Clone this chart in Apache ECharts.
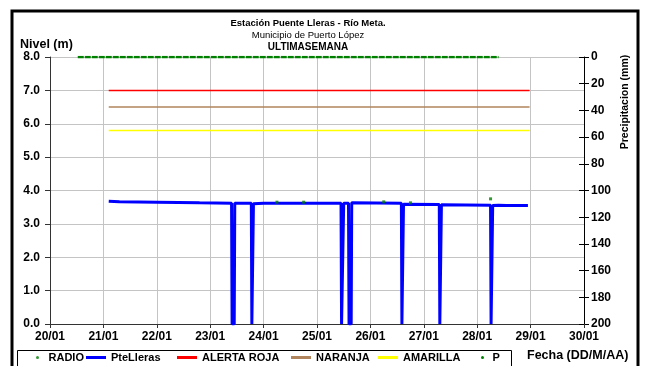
<!DOCTYPE html>
<html>
<head>
<meta charset="utf-8">
<script src="https://cdn.jsdelivr.net/npm/echarts@6/dist/echarts.min.js"></script>
<style>
  html, body { margin: 0; padding: 0; background: #fff; }
  #chart { width: 645px; height: 366px; }
</style>
</head>
<body>
<div id="chart"></div>
<script>
// fechas en dias de enero (decimal), nivel en metros
const nivelFechas = [21.10, 21.30, 22.00, 22.80, 23.40, 23.41, 23.45, 23.46, 23.77, 23.78, 23.80, 23.81,
  24.00, 25.45, 25.46, 25.49, 25.50, 25.59, 25.60, 25.64, 25.65, 26.58, 26.59, 26.61, 26.62,
  27.29, 27.30, 27.32, 27.33, 28.25, 28.26, 28.28, 28.29, 28.40, 28.55, 28.95];
const nivelValores = [3.68, 3.66, 3.65, 3.63, 3.62, 0, 0, 3.62, 3.62, 0, 0, 3.60,
  3.62, 3.62, 0, 0, 3.62, 3.62, 0, 0, 3.63, 3.62, 0, 0, 3.59,
  3.58, 0, 0, 3.57, 3.56, 0, 0, 3.55, 3.56, 3.55, 3.55];

// lecturas de radio
const radioFechas = [24.25, 24.75, 26.25, 26.75, 28.25];
const radioValores = [3.65, 3.65, 3.66, 3.63, 3.75];

// niveles de alerta
const alertaFechas = [21.10, 28.98];
const alertaRoja = [7.0, 7.0];
const alertaNaranja = [6.5, 6.5];
const alertaAmarilla = [5.8, 5.8];

// precipitacion (eje derecho, invertido)
const pFechas = [20.52, 28.40];
const pValores = [0, 0];

// etiquetas de ejes
const fechasEje = ['20/01', '21/01', '22/01', '23/01', '24/01', '25/01', '26/01', '27/01', '28/01', '29/01', '30/01'];
const nivelEje = ['0.0', '1.0', '2.0', '3.0', '4.0', '5.0', '6.0', '7.0', '8.0'];

const fuente = 'Liberation Sans, Arial, sans-serif';
const pares = (xs, ys) => xs.map((x, i) => [x, ys[i]]);

// una leyenda por elemento, para colocarlos como en el original
const leyenda = (nombre, icono, x, ancho) => ({
  left: x,
  top: 352,
  padding: 0,
  itemWidth: ancho,
  itemHeight: 3,
  textStyle: { fontSize: 11, fontWeight: 'bold', color: '#000', fontFamily: fuente },
  data: [{ name: nombre, icon: icono }]
});

const chart = echarts.init(document.getElementById('chart'));

const optionData = {
  animation: false,
  backgroundColor: '#fff',
  textStyle: { fontFamily: fuente },
  title: [
    { text: 'Estación Puente Lleras - Río Meta.', left: 303, top: 13, textAlign: 'center',
      textStyle: { fontSize: 9.5, fontWeight: 'bold', color: '#000', fontFamily: fuente } },
    { text: 'Municipio de Puerto López', left: 303, top: 25, textAlign: 'center',
      textStyle: { fontSize: 9.5, fontWeight: 'normal', color: '#000', fontFamily: fuente } },
    { text: 'ULTIMASEMANA', left: 303, top: 37, textAlign: 'center',
      textStyle: { fontSize: 10, fontWeight: 'bold', color: '#000', fontFamily: fuente } }
  ],
  graphic: [
    // marco exterior
    { type: 'rect', shape: { x: 12, y: 11, width: 626, height: 400 }, z: 100,
      style: { fill: 'none', stroke: '#000', lineWidth: 3 } },
    // marco de la leyenda
    { type: 'rect', shape: { x: 17.5, y: 350.5, width: 494, height: 40 }, z: 100,
      style: { fill: 'none', stroke: '#000', lineWidth: 1 } },
    { type: 'text', x: 20, y: 45, z: 100,
      style: { text: 'Nivel (m)', font: 'bold 12.5px ' + fuente, fill: '#000', align: 'left', textAlign: 'left', verticalAlign: 'middle', textVerticalAlign: 'middle' } },
    { type: 'text', x: 625, y: 102, rotation: Math.PI / 2, z: 100,
      style: { text: 'Precipitacion (mm)', font: 'bold 10.5px ' + fuente, fill: '#000', align: 'center', textAlign: 'center', verticalAlign: 'middle', textVerticalAlign: 'middle' } },
    { type: 'text', x: 527, y: 356, z: 100,
      style: { text: 'Fecha (DD/M/AA)', font: 'bold 12.5px ' + fuente, fill: '#000', align: 'left', textAlign: 'left', verticalAlign: 'middle', textVerticalAlign: 'middle' } }
  ],
  legend: [
    leyenda('RADIO', 'circle', 36, 12),
    leyenda('PteLleras', 'rect', 86, 20),
    leyenda('ALERTA ROJA', 'rect', 177, 20),
    leyenda('NARANJA', 'rect', 291, 20),
    leyenda('AMARILLA', 'rect', 378, 20),
    leyenda('P', 'circle', 481, 10)
  ],
  grid: { left: 50, right: 61, top: 57, bottom: 42 },
  xAxis: {
    type: 'value',
    min: 20,
    max: 30,
    interval: 1,
    axisLine: { lineStyle: { color: '#333', width: 1 } },
    axisTick: { show: true, length: 4, lineStyle: { color: '#333' } },
    axisLabel: {
      margin: 7, fontSize: 12, fontWeight: 'bold', color: '#000', fontFamily: fuente,
      formatter: v => fechasEje[Math.round(v - 20)]
    },
    splitLine: { show: true, lineStyle: { color: '#c4c4c4', width: 1 } }
  },
  yAxis: [
    {
      type: 'value',
      min: 0,
      max: 8,
      interval: 1,
      axisLine: { show: true, lineStyle: { color: '#333', width: 1 } },
      axisTick: { show: true, length: 5, lineStyle: { color: '#333' } },
      axisLabel: {
        margin: 10, fontSize: 12, fontWeight: 'bold', color: '#000', fontFamily: fuente,
        formatter: v => nivelEje[Math.round(v)]
      },
      splitLine: { show: true, lineStyle: { color: '#c4c4c4', width: 1 } }
    },
    {
      type: 'value',
      position: 'right',
      inverse: true,
      min: 0,
      max: 200,
      interval: 20,
      axisLine: { show: true, lineStyle: { color: '#000', width: 1 } },
      axisTick: { show: true, length: 5, lineStyle: { color: '#000' } },
      axisLabel: { margin: 7, fontSize: 12, fontWeight: 'bold', color: '#000', fontFamily: fuente },
      splitLine: { show: false }
    },
    {
      // solo para las marcas hacia dentro del eje derecho
      type: 'value',
      position: 'right',
      inverse: true,
      min: 0,
      max: 200,
      interval: 20,
      axisLine: { show: false },
      axisTick: { show: true, inside: true, length: 5, lineStyle: { color: '#000' } },
      axisLabel: { show: false },
      splitLine: { show: false }
    }
  ],
  series: [
    {
      name: 'ALERTA ROJA', type: 'line', symbol: 'none', color: '#ff0000',
      lineStyle: { color: '#ff0000', width: 1.5 },
      data: pares(alertaFechas, alertaRoja)
    },
    {
      name: 'NARANJA', type: 'line', symbol: 'none', color: '#b0845c',
      lineStyle: { color: '#b0845c', width: 1.5 },
      data: pares(alertaFechas, alertaNaranja)
    },
    {
      name: 'AMARILLA', type: 'line', symbol: 'none', color: '#ffff00',
      lineStyle: { color: '#ffff00', width: 1.5 },
      data: pares(alertaFechas, alertaAmarilla)
    },
    {
      name: 'PteLleras', type: 'line', symbol: 'none', color: '#0000ff',
      lineStyle: { color: '#0000ff', width: 3 },
      data: pares(nivelFechas, nivelValores)
    },
    {
      name: 'RADIO', type: 'scatter', symbol: 'rect', symbolSize: 3, color: '#008000', z: 5,
      data: pares(radioFechas, radioValores)
    },
    {
      name: 'P', type: 'line', yAxisIndex: 1, symbol: 'none', color: '#008000', z: 5,
      lineStyle: { color: '#008000', width: 2.5, type: [6, 1] },
      data: pares(pFechas, pValores)
    }
  ]
};

chart.setOption(optionData);
</script>
</body>
</html>
